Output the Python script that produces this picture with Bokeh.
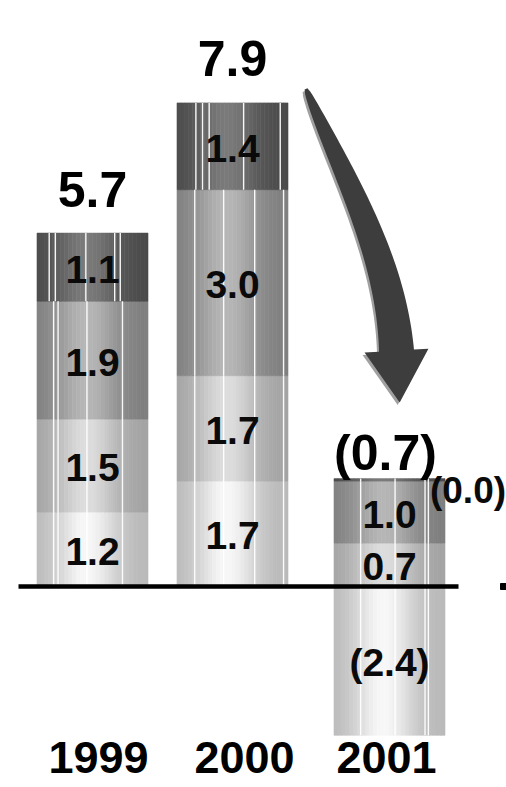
import numpy as np
from bokeh.plotting import figure
from bokeh.models import Range1d, ColumnDataSource
from bokeh.core.properties import value
from bokeh.embed import file_html
from bokeh.resources import INLINE

# ---- data -------------------------------------------------------------
years = ["1999", "2000", "2001"]
seg_bottom = [1.2, 1.7, -2.4]
seg_second = [1.5, 1.7, 0.7]
seg_third = [1.9, 3.0, 1.0]
seg_top = [1.1, 1.4, -0.04]
totals = [5.7, 7.9, -0.7]

# ---- layout -----------------------------------------------------------
W, H = 506, 787
BASE_PX = 586          # screen row of the zero line
PX_PER_UNIT = 62.0
bar_x = [92, 232, 389]
bar_w = 111
year_x = [98, 244, 386]
FONT = value("Liberation Sans")


def py_to_data(py):
    return (BASE_PX - np.asarray(py, dtype=float)) / PX_PER_UNIT


def fmt(v):
    return f"({abs(v):.1f})" if v < 0 else f"{v:.1f}"


p = figure(width=W, height=H, output_backend="svg", toolbar_location=None,
           x_range=Range1d(0, W),
           y_range=Range1d(-(H - BASE_PX) / PX_PER_UNIT, BASE_PX / PX_PER_UNIT),
           x_axis_location=None, y_axis_location=None, min_border=0)
p.outline_line_color = None
p.xgrid.visible = False
p.ygrid.visible = False
p.background_fill_color = "white"

# shading of each layer: (edge grey, centre grey)
layer_tone = [(0xB8, 0xF7), (0xA2, 0xDD), (0x7E, 0xB6), (0x4A, 0x7A)]
N_STRIPS = 28


def grey(level):
    level = int(round(max(0, min(255, level))))
    return "#%02x%02x%02x" % (level, level, level)


# white seams on the cylinders (fractions of the bar width)
body_seams = [[0.15, 0.19, 0.45, 0.77], [0.16, 0.42, 0.70, 0.96], [0.24, 0.55, 0.82, 0.85]]
top_seams = [[0.11, 0.165, 0.44, 0.70, 0.75], [0.17, 0.23, 0.29, 0.60, 0.93], [0.24, 0.55, 0.82, 0.85]]

strips = dict(left=[], right=[], bottom=[], top=[], color=[])
seams = dict(x0=[], x1=[], y0=[], y1=[])
labels = dict(x=[], y=[], text=[])
stack_top = []

layers = [seg_bottom, seg_second, seg_third, seg_top]
for i in range(len(years)):
    left = bar_x[i] - bar_w / 2
    running = 0.0
    for k, series in enumerate(layers):
        v = series[i]
        if k == 0 and v < 0:
            lo, hi = v, 0.0
        else:
            lo, hi = running, running + abs(v)
            running = hi
        edge, centre = layer_tone[k]
        for s in range(N_STRIPS):
            u = (s + 0.5) / N_STRIPS
            g = np.exp(-((u - 0.45) / 0.28) ** 2)
            strips["left"].append(left + bar_w * s / N_STRIPS)
            strips["right"].append(left + bar_w * (s + 1) / N_STRIPS)
            strips["bottom"].append(lo)
            strips["top"].append(hi)
            strips["color"].append(grey(edge + (centre - edge) * g))
        fr = top_seams[i] if k == 3 else body_seams[i]
        for f in fr:
            seams["x0"].append(left + bar_w * f)
            seams["x1"].append(left + bar_w * f)
            seams["y0"].append(lo)
            seams["y1"].append(hi)
        if not (i == 2 and k == 3):
            labels["x"].append(bar_x[i])
            labels["y"].append((lo + hi) / 2)
            labels["text"].append(fmt(v))
    stack_top.append(running)

p.quad(left="left", right="right", bottom="bottom", top="top",
       fill_color="color", line_color="color", line_width=0.6,
       source=ColumnDataSource(strips))
p.segment(x0="x0", x1="x1", y0="y0", y1="y1", line_color="white",
          line_width=1.4, line_alpha=0.95, source=ColumnDataSource(seams))

# segment values
p.text(x="x", y="y", text="text", source=ColumnDataSource(labels),
       text_font=FONT, text_font_style="bold", text_font_size="39px",
       text_align="center", text_baseline="middle", text_color="#0a0a0a",
       y_offset=2)

# small change on top of the 2001 stack
p.text(x=[bar_x[2] + bar_w / 2 + 23], y=[stack_top[2]], text=[fmt(seg_top[2])],
       text_font=FONT, text_font_style="bold", text_font_size="37px",
       text_align="center", text_baseline="middle", text_color="#0a0a0a",
       y_offset=12)

# totals above the bars
tot_dx = [0, 0, -4]
tot_dy = [-44, -44, -26]
for i in range(len(years)):
    p.text(x=[bar_x[i] + tot_dx[i]], y=[stack_top[i]], text=[fmt(totals[i])],
           text_font=FONT, text_font_style="bold", text_font_size="50px",
           text_align="center", text_baseline="middle", text_color="#000000",
           y_offset=tot_dy[i])

# zero line
p.segment(x0=[18], x1=[458], y0=[0], y1=[0], line_color="black", line_width=4.5)
p.scatter(x=[503], y=[0], marker="square", size=6, color="black")

# curved arrow from the 2000 peak down to the 2001 result
tail = np.array([bar_x[1] + bar_w / 2 + 18, BASE_PX - stack_top[1] * PX_PER_UNIT - 14])
tip_y = BASE_PX - stack_top[2] * PX_PER_UNIT - 76
base = np.array([bar_x[2] + 7, tip_y - 52])
P0 = tail
P1 = tail + np.array([34, 80])
P2 = base + np.array([-6, -98])
P3 = base
t = np.linspace(0, 1, 60)
curve = ((1 - t) ** 3)[:, None] * P0 + (3 * (1 - t) ** 2 * t)[:, None] * P1 \
    + (3 * (1 - t) * t ** 2)[:, None] * P2 + (t ** 3)[:, None] * P3
deriv = (3 * (1 - t) ** 2)[:, None] * (P1 - P0) + (6 * (1 - t) * t)[:, None] * (P2 - P1) \
    + (3 * t ** 2)[:, None] * (P3 - P2)
tang = deriv / np.linalg.norm(deriv, axis=1)[:, None]
norm = np.stack([-tang[:, 1], tang[:, 0]], axis=1)
half = (3 + 32 * t ** 0.6) / 2
side_a = curve + norm * half[:, None]
side_b = curve - norm * half[:, None]
end_t, end_n = tang[-1], norm[-1]
head_a = P3 + end_n * 32
head_b = P3 - end_n * 32
head_tip = P3 + end_t * 52
outline = np.vstack([side_a, head_a, head_tip, head_b, side_b[::-1]])

p.patch(x=outline[:, 0] - 2, y=py_to_data(outline[:, 1] + 2.5),
        fill_color="#a0a0a0", line_color=None)
p.patch(x=outline[:, 0], y=py_to_data(outline[:, 1]),
        fill_color="#3d3d3d", line_color=None)

# year captions
p.text(x=year_x, y=[float(py_to_data(757))] * 3, text=years,
       text_font=FONT, text_font_style="bold", text_font_size="45px",
       text_align="center", text_baseline="middle", text_color="#000000")

open("out.html", "w").write(file_html(p, INLINE))
